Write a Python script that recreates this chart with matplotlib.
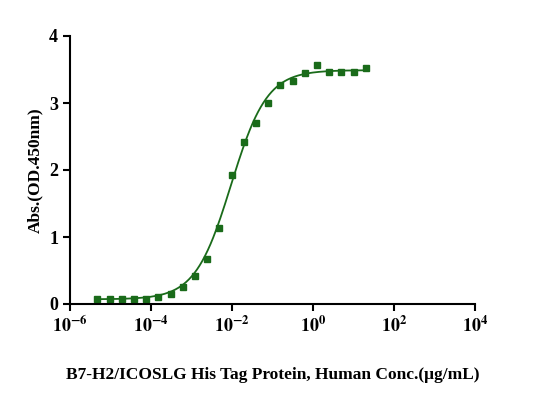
import numpy as np
import matplotlib.pyplot as plt

plt.rcParams['font.family'] = ['Liberation Serif']
plt.rcParams['font.weight'] = 'bold'
plt.rcParams['mathtext.fontset'] = 'stix'

# two-fold dilution series from 20 ug/mL
conc = 20.0 / 2.0 ** np.arange(22, -1, -1)
od = [0.07, 0.07, 0.07, 0.07, 0.08, 0.10, 0.15, 0.25, 0.42, 0.67, 1.13, 1.93,
      2.42, 2.70, 3.00, 3.27, 3.33, 3.45, 3.57, 3.47, 3.47, 3.46, 3.52]

# 4PL fit parameters
bottom, top, ec50, hill = 0.07, 3.49, 0.0095, 0.98

xf = np.logspace(np.log10(conc[0]), np.log10(conc[-1]), 300)
yf = bottom + (top - bottom) / (1 + (ec50 / xf) ** hill)

fig = plt.figure(figsize=(5.33, 4.08), dpi=100)
ax = fig.add_axes([70/533, 1 - 304/408, 405/533, 268/408])
ax.plot(xf, yf, color='#1a6b1a', lw=1.3)
ax.plot(conc, od, 's', color='#1a6b1a', ms=4)
ax.set_xscale('log')
ax.set_xlim(1e-6, 1e4)
ax.set_ylim(0, 4)
ax.set_xticks([1e-6, 1e-4, 1e-2, 1e0, 1e2, 1e4])
ax.set_xticklabels([r'$\mathbf{10^{-6}}$', r'$\mathbf{10^{-4}}$', r'$\mathbf{10^{-2}}$',
                    r'$\mathbf{10^{0}}$', r'$\mathbf{10^{2}}$', r'$\mathbf{10^{4}}$'])
ax.minorticks_off()
ax.set_yticks([0, 1, 2, 3, 4])
for s in ['top', 'right']:
    ax.spines[s].set_visible(False)
for s in ['left', 'bottom']:
    ax.spines[s].set_linewidth(1.5)
ax.tick_params(width=1.5, length=5, labelsize=13)
ax.set_ylabel('Abs.(OD.450nm)', fontsize=12.5, fontweight='bold')
ax.set_xlabel('B7-H2/ICOSLG His Tag Protein, Human Conc.(μg/mL)', fontsize=12.5,
              fontweight='bold', labelpad=22)
fig.savefig('out.png', dpi=100)
